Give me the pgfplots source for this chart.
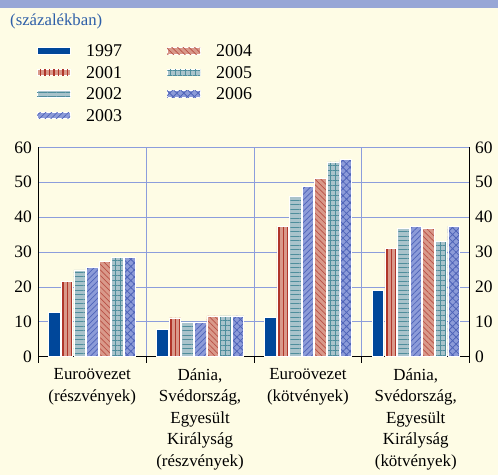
\documentclass[border=0pt]{standalone}
\usepackage{fontspec}
\setmainfont{Liberation Serif}
\usepackage{pgfplots}
\pgfplotsset{compat=1.18}
\usetikzlibrary{patterns.meta}

\definecolor{bg}{HTML}{FEFCE5}
\definecolor{band}{HTML}{97A6D6}
\definecolor{subt}{HTML}{2E5FA8}
\definecolor{gridc}{HTML}{8C9DDC}
\definecolor{c97}{HTML}{00479A}
\definecolor{salmon}{HTML}{D9998A}
\definecolor{dred}{HTML}{B0362A}
\definecolor{rred}{HTML}{B85045}
\definecolor{greyb}{HTML}{A9C3CB}
\definecolor{teal}{HTML}{4F8E9C}
\definecolor{peri}{HTML}{8C9BD8}
\definecolor{dblue}{HTML}{4E63B8}

\tikzset{
  s97/.style={fill=c97,draw=white,line width=0.6bp},
  s01/.style={fill=salmon,draw=white,line width=0.6bp,
    postaction={pattern={Lines[angle=90,distance=4.5bp,line width=1.2bp]},pattern color=dred}},
  s02/.style={fill=greyb,draw=white,line width=0.6bp,
    postaction={pattern={Lines[angle=0,distance=4.5bp,line width=1bp]},pattern color=teal}},
  s03/.style={fill=peri,draw=white,line width=0.6bp,
    postaction={pattern={Lines[angle=45,distance=4bp,line width=0.7bp]},pattern color=dblue}},
  s04/.style={fill=salmon,draw=white,line width=0.6bp,
    postaction={pattern={Lines[angle=-45,distance=4bp,line width=0.7bp]},pattern color=rred}},
  s05/.style={fill=greyb,draw=white,line width=0.6bp,
    postaction={pattern={Hatch[angle=0,distance=5bp,line width=0.9bp]},pattern color=teal}},
  s06/.style={fill=peri,draw=white,line width=0.6bp,
    postaction={pattern={Hatch[angle=45,distance=5bp,line width=0.8bp]},pattern color=dblue}},
}

\begin{document}
\begin{tikzpicture}
\fill[bg] (0,0) rectangle (498bp,475bp);
\useasboundingbox (0,0) rectangle (498bp,475bp);
\fill[band] (0,467bp) rectangle (498bp,475bp);
\node[anchor=base west,text=subt,font=\fontsize{16.8}{18}\selectfont,inner sep=0]
  at (10bp,449bp) {(százalékban)};

% legend
\foreach \st/\lab/\xx/\yy in {s97/1997/37/51, s01/2001/37/72.5, s02/2002/37/94, s03/2003/37/115.5,
                               s04/2004/167/51, s05/2005/167/72.5, s06/2006/167/94}{
  \path[\st] (\xx bp,475bp-\yy bp-3.3bp) rectangle ++(33bp,6.6bp);
  \node[anchor=west,font=\fontsize{18}{20}\selectfont,inner sep=0]
    at (\xx bp+49bp,475bp-\yy bp) {\lab};
}

\begin{axis}[
  at={(38.3bp,118.3bp)}, anchor=south west,
  scale only axis, width=431.4bp, height=209.4bp,
  xmin=-0.5, xmax=3.5, ymin=0, ymax=60,
  ybar=1.1bp, bar width=11.5bp,
  axis x line*=bottom, axis y line*=left,
  axis line style={black,line width=0.9bp,-},
  xtick={0,1,2,3},
  xticklabels={{Euroövezet\\(részvények)},
               {Dánia,\\Svédország,\\Egyesült\\Királyság\\(részvények)},
               {Euroövezet\\(kötvények)},
               {Dánia,\\Svédország,\\Egyesült\\Királyság\\(kötvények)}},
  xticklabel style={align=center,anchor=north,font=\fontsize{17}{21.6}\selectfont,yshift=-4bp},
  major x tick style={draw=none},
  minor xtick={0.5,1.5,2.5},
  xminorgrids, minor x grid style={gridc,line width=0.8bp},
  minor tick length=0pt,
  ytick={0,10,...,60},
  ymajorgrids, major y grid style={gridc,line width=0.8bp},
  major y tick style={draw=none},
  yticklabel style={font=\fontsize{17.5}{18}\selectfont,xshift=-3bp},
  /pgf/number format/assume math mode=true,
  clip=false,
]
\addplot[s97] coordinates {(0,12.8) (1,7.9) (2,11.3) (3,19.1)};
\addplot[s01] coordinates {(0,21.6) (1,11.1) (2,37.4) (3,31.0)};
\addplot[s02] coordinates {(0,24.9) (1,10.0) (2,45.9) (3,36.7)};
\addplot[s03] coordinates {(0,25.7) (1,9.8) (2,48.8) (3,37.4)};
\addplot[s04] coordinates {(0,27.3) (1,11.7) (2,51.1) (3,36.8)};
\addplot[s05] coordinates {(0,28.4) (1,11.7) (2,55.8) (3,33.1)};
\addplot[s06] coordinates {(0,28.4) (1,11.7) (2,56.5) (3,37.4)};
\foreach \t in {-0.5,0.5,1.5,2.5,3.5}{
  \edef\tmp{\noexpand\draw[black,line width=0.9bp] (axis cs:\t,0) -- ([yshift=-6bp]axis cs:\t,0);}\tmp
}
\end{axis}

\begin{axis}[
  at={(38.3bp,118.3bp)}, anchor=south west,
  scale only axis, width=431.4bp, height=209.4bp,
  xmin=-0.5, xmax=3.5, ymin=0, ymax=60,
  axis x line=none, axis y line*=right,
  axis line style={black,line width=0.9bp,-},
  ytick={0,10,...,60},
  major y tick style={draw=none},
  yticklabel style={font=\fontsize{17.5}{18}\selectfont,xshift=2bp},
  /pgf/number format/assume math mode=true,
]
\addplot[draw=none] coordinates {(0,0)};
\end{axis}
\end{tikzpicture}
\end{document}
